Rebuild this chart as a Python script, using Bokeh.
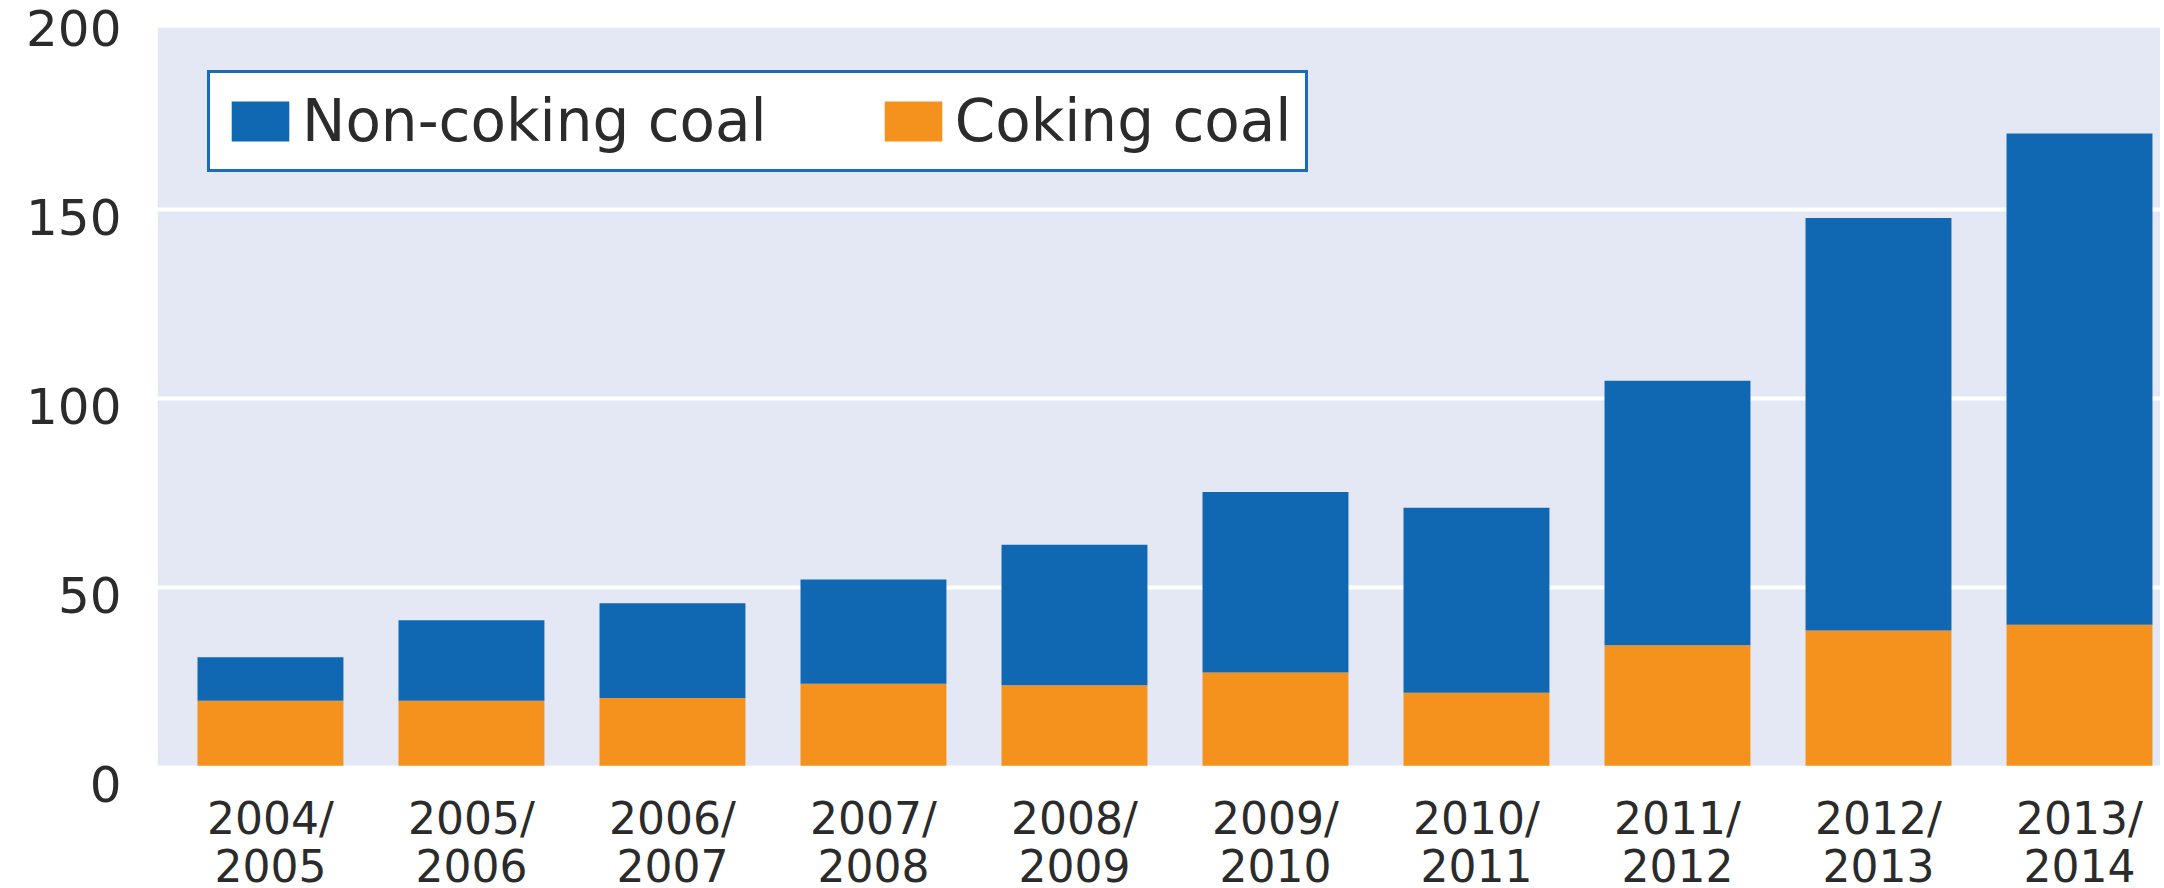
from bokeh.plotting import figure
from bokeh.models import (Range1d, FixedTicker, LinearAxis, BoxAnnotation,
                          Legend, LegendItem, ColumnDataSource)
from bokeh.embed import file_html
from bokeh.resources import INLINE

# ---- data ----
years = ["2004/\n2005", "2005/\n2006", "2006/\n2007", "2007/\n2008", "2008/\n2009",
         "2009/\n2010", "2010/\n2011", "2011/\n2012", "2012/\n2013", "2013/\n2014"]
coking = [19.9, 19.9, 20.6, 24.4, 24.0, 27.4, 22.0, 34.6, 38.5, 40.0]
non_coking = [11.5, 21.3, 25.1, 27.6, 37.2, 47.8, 49.0, 70.0, 109.2, 130.1]
y_ticks = [0, 50, 100, 150, 200]

# ---- styles ----
BLUE = "#1168b2"
ORANGE = "#f5921e"
PANEL = "#e4e8f5"
TEXT = "#2b2b2b"
FONT = "DejaVu Sans"

x = list(range(len(years)))
src = ColumnDataSource(dict(x=x, coking=coking, non_coking=non_coking))

Y0, Y1 = -2.8, 200.0
PANEL_BOTTOM, PANEL_TOP = 2.7, 198.1
LABEL_SHIFT = 2.1

p = figure(frame_width=2003, frame_height=766, output_backend="svg",
           toolbar_location=None,
           x_range=Range1d(-0.562, 9.403), y_range=Range1d(Y0, Y1),
           min_border_left=157, min_border_right=0, min_border_top=20,
           min_border_bottom=60)
p.background_fill_color = "white"
p.border_fill_color = "white"
p.outline_line_color = None

# plot panel
p.add_layout(BoxAnnotation(bottom=PANEL_BOTTOM, top=PANEL_TOP, fill_color=PANEL,
                           fill_alpha=1, line_alpha=0, level="image"))

rs = p.vbar_stack(["coking", "non_coking"], x="x", width=0.726,
                  color=[ORANGE, BLUE], line_color=None, source=src)

# white band below the panel
p.add_layout(BoxAnnotation(top=PANEL_BOTTOM, fill_color="white", fill_alpha=1,
                           line_alpha=0))

# grid
p.xgrid.visible = False
p.ygrid.ticker = FixedTicker(ticks=y_ticks)
p.ygrid.grid_line_color = "white"
p.ygrid.grid_line_width = 4
p.yaxis.visible = False

# visible y axis (labels sit slightly below the gridlines)
p.extra_y_ranges = {"lab": Range1d(Y0 + LABEL_SHIFT, Y1 + LABEL_SHIFT)}
ya = LinearAxis(y_range_name="lab", ticker=FixedTicker(ticks=y_ticks))
ya.axis_line_color = None
ya.major_tick_line_color = None
ya.minor_tick_line_color = None
ya.major_label_standoff = 30
ya.major_label_text_font = FONT
ya.major_label_text_font_size = "50px"
ya.major_label_text_color = TEXT
p.add_layout(ya, "left")

# x axis
xa = p.xaxis[0]
xa.ticker = FixedTicker(ticks=x)
xa.major_label_overrides = {i: lab for i, lab in zip(x, years)}
xa.axis_line_color = None
xa.major_tick_line_color = None
xa.minor_tick_line_color = None
xa.major_label_standoff = 0
xa.major_label_text_font = FONT
xa.major_label_text_font_size = "44px"
xa.major_label_text_line_height = 0.95
xa.major_label_text_color = TEXT

legend = Legend(items=[LegendItem(label="Non-coking coal", renderers=[rs[1]]),
                       LegendItem(label="Coking coal", renderers=[rs[0]])],
                orientation="horizontal", location="top_left")
legend.margin = 50
legend.border_line_color = "#1a6cb8"
legend.border_line_alpha = 1
legend.border_line_width = 3
legend.background_fill_color = "white"
legend.background_fill_alpha = 1
legend.padding = 14
legend.spacing = 110
legend.label_standoff = 6
legend.glyph_width = 72
legend.glyph_height = 50
legend.label_height = 45
legend.label_text_font = FONT
legend.label_text_font_size = "58px"
legend.label_text_line_height = 1.0
legend.label_text_color = TEXT
p.add_layout(legend)

open("out.html", "w").write(file_html(p, INLINE))
